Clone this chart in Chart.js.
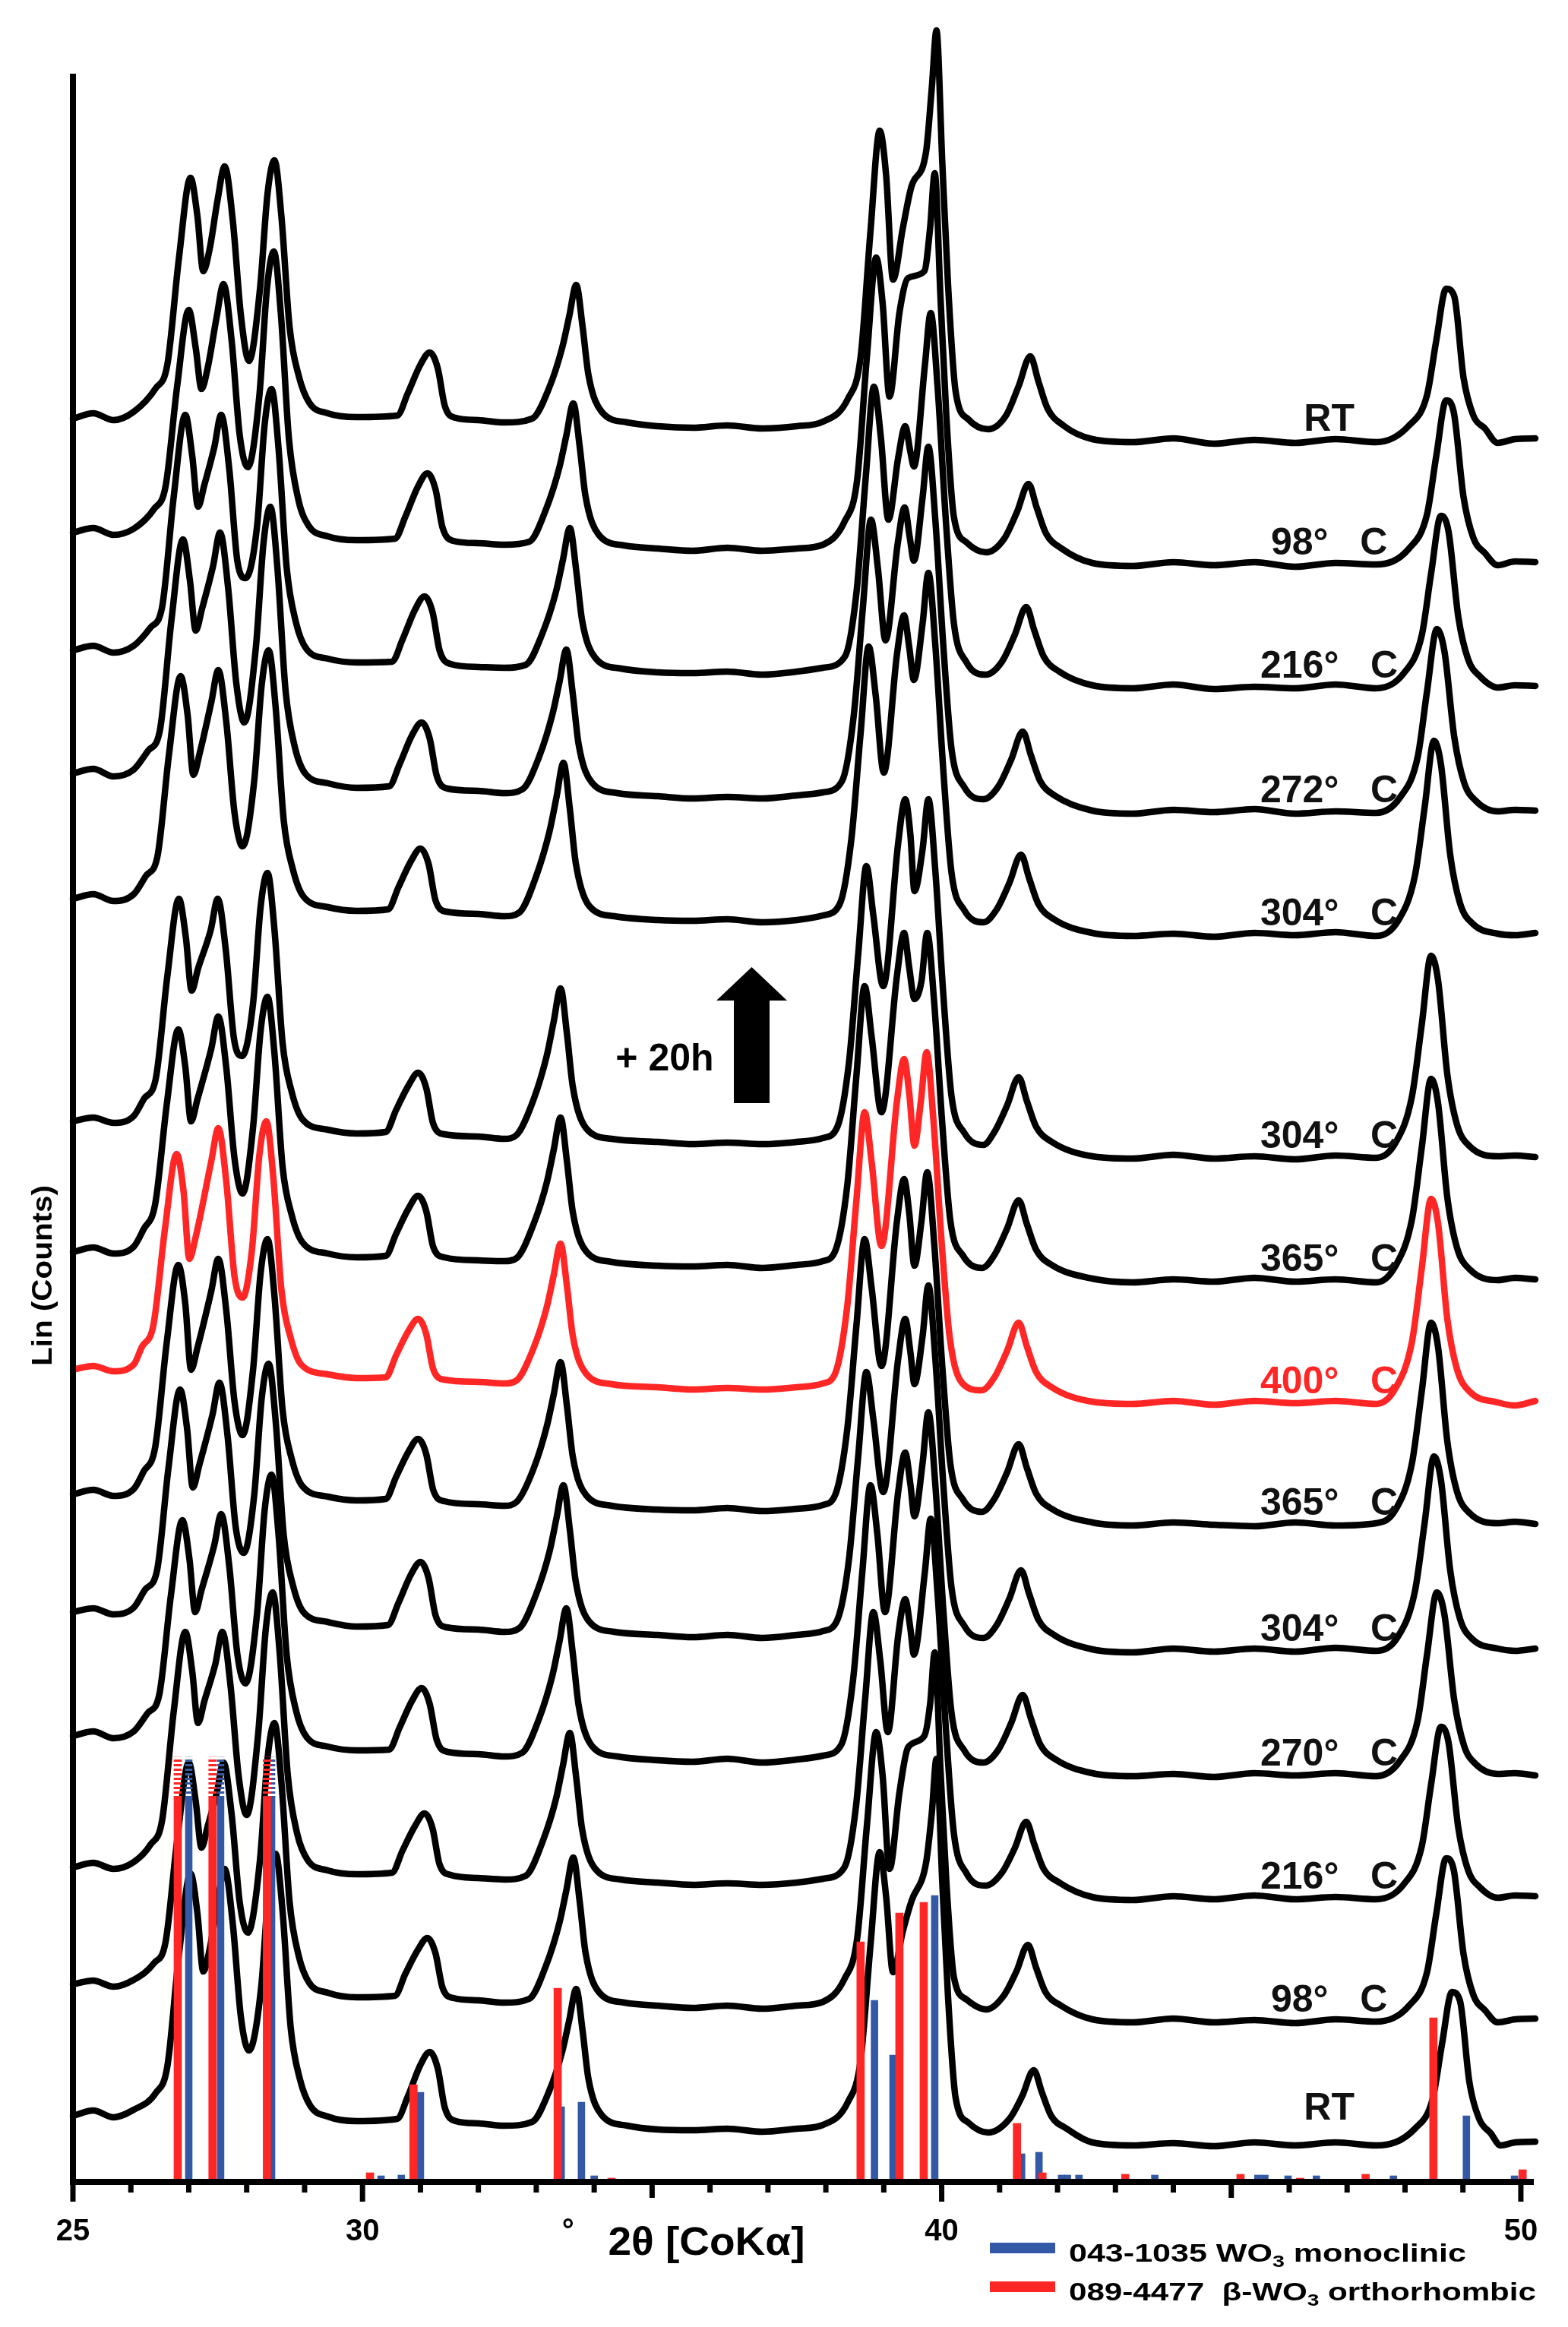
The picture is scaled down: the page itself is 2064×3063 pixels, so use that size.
<!DOCTYPE html>
<html>
<head>
<meta charset="utf-8">
<script src="https://cdn.jsdelivr.net/npm/chart.js@4.4.1/dist/chart.umd.min.js"></script>
<style>
html,body{margin:0;padding:0;background:#fff;overflow:hidden;}
canvas{display:block;}
</style>
</head>
<body>
<canvas id="c" width="2064" height="3063"></canvas>
<script>
// ---------------- DATA ----------------
// x axis: 2theta (deg, CoKa); y axis: stacked Lin (Counts) in arbitrary units
const X_MIN = 25, X_MAX = 50.25, Y_MAX = 2773;
const tickValues = [25,26,27,28,29,30,31,32,33,34,35,36,37,38,39,40,41,42,43,44,45,46,47,48,49,50];
const tickLabels = ['25','30','40','50'];

// curve labels (top to bottom), colours and vertical offsets of each stacked pattern
const curveNames   = ['RT','98°   C','216°   C','272°   C','304°   C','304°   C','365°   C','400°   C','365°   C','304°   C','270°   C','216°   C','98°   C','RT'];
const curveColors  = ['#000','#000','#000','#000','#000','#000','#000','#ff2626','#000','#000','#000','#000','#000','#000'];
const curveOffsets = [2290,2128,1966,1802,1640,1347,1185,1024,864,698,534,372,210,48];
const labelLift    = [13,12,12,12,12,12,12,12,12,12,12,12,12,32];

// [2theta, intensity above the pattern's offset]
const ptsRT1 = [[25.00,29],[25.35,36],[25.70,27],[26.05,38],[26.43,69],[26.63,100],[26.83,240],[27.03,346],[27.15,295],[27.25,223],[27.36,252],[27.50,318],[27.62,361],[27.76,290],[27.90,165],[28.04,105],[28.23,200],[28.36,325],[28.48,369],[28.60,295],[28.74,150],[28.90,85],[29.08,50],[29.40,36],[29.90,31],[30.60,33],[30.78,62],[31.00,100],[31.16,116],[31.30,95],[31.42,46],[31.61,30],[32.00,27],[32.45,24],[32.93,29],[33.22,69],[33.45,123],[33.57,164],[33.69,205],[33.80,150],[33.90,87],[34.13,38],[34.57,24],[35.10,19],[35.70,17],[36.30,20],[36.90,16],[37.50,19],[37.95,25],[38.38,55],[38.60,110],[38.77,275],[38.93,408],[39.04,350],[39.16,212],[39.33,280],[39.48,335],[39.73,380],[39.83,465],[39.91,540],[40.01,367],[40.11,205],[40.24,65],[40.46,28],[40.80,15],[41.11,33],[41.33,72],[41.53,111],[41.67,78],[41.83,42],[42.10,20],[42.60,2],[43.30,-2],[44.00,3],[44.70,-4],[45.40,1],[46.10,-3],[46.80,2],[47.50,-2],[48.07,20],[48.38,60],[48.54,132],[48.71,200],[48.85,190],[49.01,83],[49.18,33],[49.38,16],[49.60,-3],[49.90,2],[50.25,3]];
const pts98a = [[25.00,41],[25.35,47],[25.70,38],[26.05,46],[26.40,72],[26.60,102],[26.80,234],[27.00,334],[27.12,284],[27.22,230],[27.33,259],[27.48,324],[27.60,368],[27.74,294],[27.88,169],[28.02,127],[28.22,222],[28.35,362],[28.47,411],[28.59,329],[28.73,164],[28.89,85],[29.07,50],[29.40,36],[29.90,31],[30.56,33],[30.74,62],[30.96,102],[31.12,119],[31.26,98],[31.38,48],[31.57,30],[32.00,27],[32.45,25],[32.88,29],[33.17,72],[33.40,127],[33.52,169],[33.64,211],[33.75,154],[33.85,89],[34.08,38],[34.52,24],[35.10,20],[35.70,17],[36.30,21],[36.90,17],[37.50,20],[37.95,25],[38.32,55],[38.54,110],[38.71,274],[38.87,403],[38.98,343],[39.10,220],[39.27,330],[39.42,376],[39.70,385],[39.80,442],[39.88,514],[39.98,350],[40.08,195],[40.21,62],[40.43,28],[40.77,15],[41.08,33],[41.30,68],[41.50,105],[41.64,74],[41.80,40],[42.07,20],[42.60,1],[43.30,-3],[44.00,2],[44.70,-2],[45.40,2],[46.10,-4],[46.80,1],[47.50,-1],[48.07,20],[48.38,65],[48.54,142],[48.71,215],[48.84,200],[49.01,88],[49.18,34],[49.38,14],[49.60,-2],[49.90,3],[50.25,2]];
const pts216a = [[25.00,48],[25.35,54],[25.70,45],[26.05,54],[26.34,78],[26.54,105],[26.74,250],[26.94,358],[27.06,304],[27.16,237],[27.27,266],[27.44,315],[27.56,358],[27.70,286],[27.84,165],[27.98,143],[28.18,212],[28.31,345],[28.43,392],[28.55,314],[28.69,157],[28.85,85],[29.03,50],[29.40,37],[29.90,32],[30.51,33],[30.69,62],[30.91,102],[31.07,119],[31.21,98],[31.33,48],[31.52,30],[32.00,26],[32.45,25],[32.82,29],[33.11,71],[33.34,125],[33.46,167],[33.58,209],[33.69,153],[33.79,88],[34.02,38],[34.46,24],[35.10,19],[35.70,18],[36.30,20],[36.90,16],[37.50,20],[37.95,25],[38.33,40],[38.53,125],[38.69,277],[38.83,395],[38.95,328],[39.08,220],[39.25,302],[39.37,343],[39.46,309],[39.52,290],[39.71,423],[39.81,492],[39.93,394],[40.07,221],[40.21,84],[40.43,32],[40.76,16],[41.04,33],[41.26,68],[41.46,105],[41.60,74],[41.76,40],[42.03,20],[42.60,2],[43.30,-2],[44.00,3],[44.70,-3],[45.40,0],[46.10,-2],[46.80,3],[47.50,-2],[47.98,18],[48.29,68],[48.45,149],[48.62,225],[48.75,205],[48.92,92],[49.09,36],[49.29,14],[49.60,-1],[49.90,2],[50.25,1]];
const pts272 = [[25.00,50],[25.35,56],[25.70,46],[26.05,55],[26.30,80],[26.50,106],[26.70,251],[26.90,358],[27.02,304],[27.12,238],[27.23,267],[27.42,323],[27.54,367],[27.68,294],[27.82,169],[27.96,117],[28.16,217],[28.29,353],[28.41,401],[28.53,321],[28.67,160],[28.83,85],[29.01,50],[29.40,37],[29.90,31],[30.46,33],[30.64,62],[30.86,101],[31.02,117],[31.16,96],[31.28,47],[31.47,30],[32.00,27],[32.45,24],[32.76,29],[33.05,72],[33.28,128],[33.40,170],[33.52,213],[33.63,155],[33.73,89],[33.96,38],[34.40,24],[35.10,20],[35.70,17],[36.30,19],[36.90,17],[37.50,21],[37.95,25],[38.28,40],[38.48,125],[38.64,269],[38.78,384],[38.90,319],[39.03,225],[39.24,352],[39.36,400],[39.45,360],[39.52,330],[39.67,413],[39.77,480],[39.89,384],[40.03,216],[40.17,82],[40.39,32],[40.72,16],[40.98,33],[41.20,68],[41.40,105],[41.54,74],[41.70,40],[41.97,20],[42.60,1],[43.30,-3],[44.00,2],[44.70,-1],[45.40,3],[46.10,-3],[46.80,0],[47.50,-2],[47.91,18],[48.22,72],[48.38,158],[48.55,240],[48.68,211],[48.85,98],[49.02,38],[49.22,14],[49.60,0],[49.90,2],[50.25,1]];
const pts304a = [[25.00,47],[25.35,53],[25.70,44],[26.05,53],[26.26,77],[26.46,103],[26.66,238],[26.86,340],[26.98,289],[27.08,210],[27.19,239],[27.39,306],[27.51,348],[27.65,278],[27.79,160],[27.93,116],[28.13,202],[28.26,329],[28.38,374],[28.50,299],[28.64,150],[28.80,85],[28.98,50],[29.40,36],[29.90,31],[30.44,33],[30.62,62],[30.84,97],[31.00,113],[31.14,93],[31.26,45],[31.45,30],[32.00,27],[32.45,24],[32.71,29],[33.00,77],[33.23,136],[33.35,181],[33.47,226],[33.58,165],[33.68,95],[33.91,38],[34.35,24],[35.10,19],[35.70,18],[36.30,20],[36.90,16],[37.50,19],[37.95,25],[38.24,40],[38.44,125],[38.60,265],[38.74,379],[38.86,315],[39.00,213],[39.23,370],[39.35,420],[39.44,378],[39.52,335],[39.67,409],[39.77,476],[39.89,381],[40.03,214],[40.17,81],[40.39,32],[40.72,16],[40.95,33],[41.17,68],[41.37,105],[41.51,74],[41.67,40],[41.94,20],[42.60,2],[43.30,-2],[44.00,1],[44.70,-3],[45.40,2],[46.10,-1],[46.80,3],[47.50,-2],[47.88,18],[48.17,77],[48.34,168],[48.50,255],[48.62,224],[48.78,105],[48.95,41],[49.17,14],[49.60,1],[49.90,-1],[50.25,2]];
const pts304b = [[25.00,47],[25.35,52],[25.70,45],[26.05,54],[26.23,77],[26.43,103],[26.63,238],[26.83,340],[26.95,289],[27.05,219],[27.16,248],[27.38,299],[27.50,340],[27.64,272],[27.78,156],[27.92,133],[28.11,202],[28.24,329],[28.36,374],[28.48,299],[28.62,150],[28.78,85],[28.96,50],[29.40,36],[29.90,31],[30.40,33],[30.58,62],[30.80,95],[30.96,111],[31.10,91],[31.22,44],[31.41,30],[32.00,27],[32.45,24],[32.66,29],[32.95,75],[33.18,133],[33.30,178],[33.42,222],[33.53,162],[33.63,93],[33.86,38],[34.30,24],[35.10,20],[35.70,17],[36.30,19],[36.90,17],[37.50,20],[37.95,25],[38.20,40],[38.40,125],[38.56,268],[38.70,383],[38.82,318],[38.99,225],[39.25,414],[39.37,471],[39.46,424],[39.53,350],[39.67,405],[39.77,471],[39.89,377],[40.03,212],[40.17,80],[40.39,32],[40.72,16],[40.91,33],[41.13,68],[41.33,105],[41.47,74],[41.63,40],[41.90,20],[42.60,1],[43.30,-2],[44.00,3],[44.70,-2],[45.40,1],[46.10,-3],[46.80,2],[47.50,-1],[47.83,18],[48.12,80],[48.29,175],[48.45,265],[48.57,233],[48.73,109],[48.90,42],[49.12,14],[49.60,1],[49.90,2],[50.25,0]];
const pts365a = [[25.00,37],[25.35,43],[25.70,35],[26.05,44],[26.22,67],[26.42,100],[26.62,231],[26.82,330],[26.94,281],[27.04,209],[27.15,238],[27.39,305],[27.51,347],[27.65,278],[27.79,160],[27.93,114],[28.11,201],[28.24,328],[28.36,373],[28.48,298],[28.62,149],[28.78,85],[28.96,50],[29.40,35],[29.90,30],[30.40,32],[30.58,61],[30.80,95],[30.96,111],[31.10,91],[31.22,44],[31.41,30],[32.00,26],[32.45,25],[32.66,29],[32.95,73],[33.18,128],[33.30,171],[33.42,214],[33.53,156],[33.63,90],[33.86,38],[34.30,24],[35.10,19],[35.70,18],[36.30,20],[36.90,16],[37.50,20],[37.95,25],[38.17,40],[38.37,125],[38.53,271],[38.67,387],[38.79,321],[38.96,221],[39.23,402],[39.35,457],[39.44,411],[39.53,370],[39.65,393],[39.75,457],[39.87,366],[40.01,206],[40.15,78],[40.37,32],[40.70,16],[40.91,33],[41.13,68],[41.33,105],[41.47,74],[41.63,40],[41.90,20],[42.60,2],[43.30,-3],[44.00,1],[44.70,-2],[45.40,3],[46.10,-2],[46.80,1],[47.50,-3],[47.83,18],[48.12,80],[48.29,175],[48.45,265],[48.57,233],[48.73,109],[48.90,42],[49.12,14],[49.60,0],[49.90,3],[50.25,1]];
const pts400 = [[25.00,43],[25.35,48],[25.70,41],[26.05,50],[26.19,73],[26.39,102],[26.59,229],[26.79,327],[26.91,278],[27.01,189],[27.12,218],[27.39,318],[27.51,361],[27.65,289],[27.79,166],[27.93,138],[28.09,200],[28.22,326],[28.34,370],[28.46,296],[28.60,148],[28.76,85],[28.94,50],[29.40,37],[29.90,32],[30.40,33],[30.58,62],[30.80,95],[30.96,110],[31.10,90],[31.22,44],[31.41,30],[32.00,27],[32.45,25],[32.66,29],[32.95,71],[33.18,125],[33.30,167],[33.42,209],[33.53,153],[33.63,88],[33.86,38],[34.30,24],[35.10,20],[35.70,17],[36.30,19],[36.90,17],[37.50,20],[37.95,25],[38.17,40],[38.37,127],[38.53,268],[38.67,382],[38.79,317],[38.96,206],[39.23,398],[39.35,452],[39.44,407],[39.53,338],[39.64,396],[39.74,461],[39.86,369],[40.00,210],[40.14,85],[40.36,25],[40.69,16],[40.91,33],[41.13,68],[41.33,105],[41.47,74],[41.63,40],[41.90,20],[42.60,1],[43.30,-2],[44.00,2],[44.70,-3],[45.40,2],[46.10,-1],[46.80,2],[47.50,-2],[47.83,18],[48.12,80],[48.29,177],[48.45,268],[48.57,236],[48.73,110],[48.90,43],[49.12,14],[49.60,0],[49.90,-4],[50.25,2]];
const pts365b = [[25.00,39],[25.35,45],[25.70,37],[26.05,46],[26.22,69],[26.42,101],[26.62,239],[26.82,341],[26.94,290],[27.04,203],[27.15,232],[27.39,307],[27.51,349],[27.65,279],[27.79,161],[27.93,117],[28.11,203],[28.24,330],[28.36,375],[28.48,300],[28.62,150],[28.78,85],[28.96,50],[29.40,36],[29.90,31],[30.40,33],[30.58,62],[30.80,96],[30.96,112],[31.10,92],[31.22,45],[31.41,30],[32.00,26],[32.45,24],[32.66,29],[32.95,72],[33.18,128],[33.30,170],[33.42,213],[33.53,155],[33.63,89],[33.86,38],[34.30,24],[35.10,19],[35.70,18],[36.30,21],[36.90,17],[37.50,20],[37.95,25],[38.17,40],[38.37,125],[38.53,263],[38.67,375],[38.79,311],[38.96,208],[39.23,400],[39.35,454],[39.44,409],[39.53,340],[39.65,398],[39.75,463],[39.87,370],[40.01,208],[40.15,79],[40.37,32],[40.70,16],[40.91,33],[41.13,68],[41.33,105],[41.47,74],[41.63,40],[41.90,20],[42.60,2],[43.30,-2],[44.00,2],[44.70,-1],[45.40,-3],[46.10,2],[46.80,-2],[47.50,1],[47.83,18],[48.12,80],[48.29,175],[48.45,265],[48.57,233],[48.73,109],[48.90,42],[49.12,14],[49.60,1],[49.90,3],[50.25,0]];
const pts304c = [[25.00,50],[25.35,55],[25.70,47],[26.05,56],[26.25,80],[26.45,104],[26.65,240],[26.85,343],[26.97,292],[27.07,214],[27.18,243],[27.41,310],[27.53,352],[27.67,282],[27.81,162],[27.95,128],[28.13,204],[28.26,332],[28.38,377],[28.50,302],[28.64,151],[28.80,85],[28.98,50],[29.40,37],[29.90,31],[30.44,33],[30.62,62],[30.84,100],[31.00,116],[31.14,95],[31.26,46],[31.45,30],[32.00,27],[32.45,24],[32.71,29],[33.00,74],[33.23,130],[33.35,174],[33.47,217],[33.58,158],[33.68,91],[33.91,38],[34.35,24],[35.10,20],[35.70,17],[36.30,20],[36.90,16],[37.50,20],[37.95,25],[38.20,40],[38.40,120],[38.56,256],[38.70,366],[38.82,304],[38.99,208],[39.25,384],[39.37,436],[39.46,392],[39.53,350],[39.67,413],[39.77,480],[39.89,384],[40.03,216],[40.17,82],[40.39,32],[40.72,16],[40.95,33],[41.17,68],[41.37,105],[41.51,74],[41.67,40],[41.94,20],[42.60,1],[43.30,-3],[44.00,2],[44.70,-2],[45.40,2],[46.10,-2],[46.80,3],[47.50,-1],[47.88,18],[48.17,77],[48.34,168],[48.50,255],[48.62,224],[48.78,105],[48.95,41],[49.17,14],[49.60,2],[49.90,-1],[50.25,2]];
const pts270 = [[25.00,51],[25.35,57],[25.70,48],[26.05,57],[26.29,81],[26.49,105],[26.69,235],[26.89,335],[27.01,285],[27.11,214],[27.22,243],[27.44,302],[27.56,343],[27.70,274],[27.84,158],[27.98,120],[28.18,213],[28.31,348],[28.43,395],[28.55,316],[28.69,158],[28.85,85],[29.03,50],[29.40,37],[29.90,32],[30.46,33],[30.64,62],[30.86,98],[31.02,114],[31.16,93],[31.28,46],[31.47,30],[32.00,27],[32.45,24],[32.76,29],[33.05,74],[33.28,131],[33.40,175],[33.52,219],[33.63,160],[33.73,92],[33.96,38],[34.40,24],[35.10,19],[35.70,17],[36.30,21],[36.90,16],[37.50,20],[37.95,25],[38.27,40],[38.47,125],[38.63,267],[38.77,381],[38.89,316],[39.02,214],[39.25,373],[39.37,424],[39.46,382],[39.53,340],[39.67,410],[39.77,477],[39.89,382],[40.03,215],[40.17,81],[40.39,32],[40.72,16],[40.98,33],[41.20,68],[41.40,105],[41.54,74],[41.70,40],[41.97,20],[42.60,2],[43.30,-2],[44.00,1],[44.70,-3],[45.40,2],[46.10,-1],[46.80,2],[47.50,-2],[47.91,18],[48.22,72],[48.38,158],[48.55,240],[48.68,211],[48.85,98],[49.02,38],[49.22,14],[49.60,1],[49.90,2],[50.25,-1]];
const pts216b = [[25.00,40],[25.35,46],[25.70,38],[26.05,47],[26.34,70],[26.54,102],[26.74,245],[26.94,350],[27.06,298],[27.16,230],[27.27,259],[27.46,308],[27.58,350],[27.72,280],[27.86,161],[28.00,109],[28.20,217],[28.33,354],[28.45,402],[28.57,322],[28.71,161],[28.87,85],[29.05,50],[29.40,36],[29.90,31],[30.51,33],[30.69,62],[30.91,95],[31.07,111],[31.21,91],[31.33,44],[31.52,30],[32.00,26],[32.45,24],[32.82,29],[33.11,74],[33.34,130],[33.46,174],[33.58,217],[33.69,158],[33.79,91],[34.02,38],[34.46,24],[35.10,20],[35.70,17],[36.30,19],[36.90,17],[37.50,20],[37.95,25],[38.32,40],[38.52,120],[38.68,263],[38.82,376],[38.94,312],[39.07,218],[39.25,346],[39.37,393],[39.46,354],[39.52,320],[39.71,429],[39.81,499],[39.93,399],[40.07,225],[40.21,85],[40.43,32],[40.76,16],[41.04,33],[41.26,65],[41.46,100],[41.60,70],[41.76,38],[42.03,20],[42.60,1],[43.30,-3],[44.00,2],[44.70,-2],[45.40,3],[46.10,-2],[46.80,1],[47.50,-2],[47.98,18],[48.29,68],[48.45,149],[48.62,225],[48.75,205],[48.92,92],[49.09,36],[49.29,14],[49.60,0],[49.90,3],[50.25,2]];
const pts98b = [[25.00,48],[25.35,53],[25.70,45],[26.05,54],[26.40,76],[26.60,104],[26.80,238],[27.00,340],[27.12,289],[27.22,228],[27.33,257],[27.48,299],[27.60,340],[27.74,272],[27.88,156],[28.02,116],[28.23,212],[28.36,345],[28.48,392],[28.60,314],[28.74,157],[28.90,85],[29.08,50],[29.40,37],[29.90,31],[30.56,33],[30.74,62],[30.96,94],[31.12,109],[31.26,89],[31.38,44],[31.57,30],[32.00,27],[32.45,24],[32.88,29],[33.17,73],[33.40,129],[33.52,172],[33.64,215],[33.75,157],[33.85,90],[34.08,38],[34.52,24],[35.10,20],[35.70,17],[36.30,20],[36.90,16],[37.50,20],[37.95,25],[38.32,55],[38.54,108],[38.71,258],[38.87,380],[38.98,323],[39.10,200],[39.27,300],[39.42,360],[39.70,375],[39.80,417],[39.88,485],[39.98,330],[40.08,184],[40.21,58],[40.43,28],[40.77,15],[41.07,33],[41.29,65],[41.49,100],[41.63,70],[41.79,38],[42.06,20],[42.60,2],[43.30,-2],[44.00,3],[44.70,-2],[45.40,1],[46.10,-3],[46.80,2],[47.50,-1],[48.07,20],[48.38,64],[48.54,141],[48.71,214],[48.84,199],[49.01,88],[49.18,34],[49.38,14],[49.60,-2],[49.90,2],[50.25,3]];
const ptsRT2 = [[25.00,37],[25.35,44],[25.70,35],[26.05,45],[26.43,67],[26.63,102],[26.83,249],[27.03,356],[27.15,303],[27.25,227],[27.36,256],[27.50,319],[27.62,362],[27.76,290],[27.90,167],[28.04,123],[28.25,206],[28.38,336],[28.50,382],[28.62,306],[28.76,153],[28.92,85],[29.10,50],[29.40,36],[29.90,30],[30.60,33],[30.78,62],[31.00,104],[31.16,121],[31.30,99],[31.42,48],[31.61,30],[32.00,27],[32.45,24],[32.93,29],[33.22,69],[33.45,122],[33.57,163],[33.69,204],[33.80,149],[33.90,86],[34.13,38],[34.57,24],[35.10,19],[35.70,18],[36.30,20],[36.90,16],[37.50,20],[37.95,25],[38.38,55],[38.60,110],[38.77,261],[38.93,384],[39.04,326],[39.16,226],[39.33,280],[39.48,320],[39.73,370],[39.83,436],[39.91,507],[40.01,345],[40.11,193],[40.24,61],[40.46,28],[40.80,15],[41.17,33],[41.39,63],[41.59,97],[41.73,68],[41.89,37],[42.16,20],[42.60,2],[43.30,-2],[44.00,1],[44.70,-3],[45.40,2],[46.10,-2],[46.80,2],[47.50,-2],[48.17,20],[48.48,60],[48.64,132],[48.81,200],[48.95,188],[49.11,82],[49.28,33],[49.48,14],[49.65,-2],[49.90,2],[50.25,3]];
const curvePoints = [ptsRT1,pts98a,pts216a,pts272,pts304a,pts304b,pts365a,pts400,pts365b,pts304c,pts270,pts216b,pts98b,ptsRT2];

// reference patterns (stick positions and heights)
const monoX = [27.00,27.55,28.43,30.32,30.67,31.00,33.43,33.78,34.00,38.84,39.16,39.88,41.38,41.68,42.07,42.17,42.37,43.68,45.46,45.58,45.98,46.47,47.80,49.06,49.89];
const monoH = [505,505,505,6,7,116,97,103,6,237,165,375,35,37,7,7,7,7,7,7,6,6,6,85,6];
const orthoX = [26.81,27.41,28.35,30.13,30.88,33.37,34.30,38.60,39.27,39.69,41.30,41.74,43.17,45.16,46.19,47.32,48.49,50.03];
const orthoH = [505,505,505,10,126,253,3,314,352,366,75,10,8,8,3,8,214,14];
const monoTallX = [27.00,27.55,28.43];
const orthoTallX = [26.81,27.41,28.35];
const tallBreak = [505,557];

const legendItems = [
  {color:'#3358a6', parts:[['043-1035 WO',0],['3',1],[' monoclinic',0]], width:523},
  {color:'#ff2626', parts:[['089-4477  β-WO',0],['3',1],[' orthorhombic',0]], width:615}
];
const BLUE = '#3358a6', RED = '#ff2626';

// ---------------- CHART ----------------
function stripePattern(color){
  const c = document.createElement('canvas'); c.width = 12; c.height = 6;
  const g = c.getContext('2d'); g.fillStyle = color; g.fillRect(0,0,12,3);
  return g.createPattern(c,'repeat');
}

const datasets = [];
curvePoints.forEach((pts,i)=>{
  datasets.push({
    type:'line', label:curveNames[i],
    data: pts.map(p=>({x:p[0], y:curveOffsets[i]+p[1]})),
    borderColor: curveColors[i], borderWidth: 8.5, pointRadius: 0,
    cubicInterpolationMode:'monotone', fill:false, clip:false, order: 2,
    borderJoinStyle:'round', borderCapStyle:'round'
  });
});
datasets.push({type:'bar', label:'043-1035 WO3 monoclinic', data: monoX.map((x,i)=>({x, y:monoH[i]})),
  backgroundColor: BLUE, barThickness: 9, grouped:false, order:1, borderWidth:0});
datasets.push({type:'bar', label:'mono break', data: monoTallX.map(x=>({x, y:tallBreak.slice()})),
  backgroundColor: stripePattern(BLUE), barThickness: 9, grouped:false, order:1, borderWidth:0});
datasets.push({type:'bar', label:'089-4477 β-WO3 orthorhombic', data: orthoX.map((x,i)=>({x, y:orthoH[i]})),
  backgroundColor: RED, barThickness: 10, grouped:false, order:0, borderWidth:0});
datasets.push({type:'bar', label:'ortho break', data: orthoTallX.map(x=>({x, y:tallBreak.slice()})),
  backgroundColor: stripePattern(RED), barThickness: 10, grouped:false, order:0, borderWidth:0});

const FONT = "'Liberation Sans', Arial, Helvetica, sans-serif";

function drawText(ctx, s, x, y, size, bold, align, targetW, color){
  ctx.save();
  ctx.font = (bold?'bold ':'') + size + 'px ' + FONT;
  ctx.fillStyle = color || '#000';
  ctx.textBaseline = 'alphabetic';
  const w = ctx.measureText(s).width;
  const sx = targetW ? targetW / w : 1;
  ctx.translate(x, y); ctx.scale(sx, 1);
  ctx.textAlign = align;
  ctx.fillText(s, 0, 0);
  ctx.restore();
}

const deco = {
  id:'deco',
  afterDatasetsDraw(chart){
    const ctx = chart.ctx, xs = chart.scales.x, ys = chart.scales.y;
    const px = v => xs.getPixelForValue(v), py = v => ys.getPixelForValue(v);
    const x0 = px(X_MIN), y0 = py(0);
    ctx.save();
    ctx.strokeStyle = '#000'; ctx.fillStyle = '#000'; ctx.lineCap = 'butt';
    // axes
    ctx.lineWidth = 8;
    ctx.beginPath(); ctx.moveTo(x0, py(Y_MAX)); ctx.lineTo(x0, y0 + 6); ctx.stroke();
    ctx.beginPath(); ctx.moveTo(x0 - 4, y0 + 2); ctx.lineTo(px(X_MAX) - 2, y0 + 2); ctx.stroke();
    // ticks
    ctx.lineWidth = 7;
    tickValues.forEach(t=>{
      const len = (t % 10 === 0 || t === 25) ? 26 : (t % 5 === 0 ? 21 : 14);
      ctx.beginPath(); ctx.moveTo(px(t), y0 + 4); ctx.lineTo(px(t), y0 + 2 + len); ctx.stroke();
    });
    tickLabels.forEach(l=> drawText(ctx, l, px(+l), y0 + 79, 40, true, 'center'));
    drawText(ctx, '°', px(33.55), y0 + 79, 40, true, 'center');
    // x title
    drawText(ctx, '2θ [CoKα]', px(34.24), y0 + 98, 52, true, 'left', 259);
    // y title
    ctx.save();
    ctx.translate(56 + 12, 1679); ctx.rotate(-Math.PI/2);
    drawText(ctx, 'Lin (Counts)', 0, 0, 36, true, 'center', 238);
    ctx.restore();
    // curve labels
    curveNames.forEach((n,i)=>{
      drawText(ctx, n, px(46.69), py(curveOffsets[i] + labelLift[i]), 50, true, 'center', null, curveColors[i] === '#000' ? '#111' : curveColors[i]);
    });
    // +20h arrow
    const ax = px(36.72);
    ctx.beginPath();
    ctx.moveTo(ax, py(1597));
    ctx.lineTo(ax + 46.5, py(1553)); ctx.lineTo(ax + 23.5, py(1553));
    ctx.lineTo(ax + 23.5, py(1418)); ctx.lineTo(ax - 23.5, py(1418));
    ctx.lineTo(ax - 23.5, py(1553)); ctx.lineTo(ax - 46.5, py(1553));
    ctx.closePath(); ctx.fill();
    drawText(ctx, '+ 20h', px(34.37), py(1461), 50, true, 'left');
    // legend
    const lx = 1303, lTextX = 1407, baselines = [2977, 3028];
    legendItems.forEach((it,k)=>{
      const yb = baselines[k];
      ctx.fillStyle = it.color;
      ctx.fillRect(lx, yb - 25, 86, 14);
      ctx.fillStyle = '#000';
      let total = 0;
      it.parts.forEach(([s,sub])=>{ ctx.font = 'bold ' + (sub?22:33) + 'px ' + FONT; total += ctx.measureText(s).width; });
      const sx = it.width / total;
      let cx = lTextX;
      it.parts.forEach(([s,sub])=>{
        ctx.font = 'bold ' + (sub?22:33) + 'px ' + FONT;
        const w = ctx.measureText(s).width;
        ctx.save(); ctx.translate(cx, yb + (sub?7:0)); ctx.scale(sx,1);
        ctx.textAlign = 'left'; ctx.fillText(s, 0, 0); ctx.restore();
        cx += w * sx;
      });
    });
    ctx.restore();
  }
};

new Chart(document.getElementById('c'), {
  type:'line',
  data:{datasets},
  options:{
    responsive:false, animation:false, devicePixelRatio:1,
    layout:{padding:{left:96, right:43, top:97, bottom:193}},
    scales:{
      x:{type:'linear', min:X_MIN, max:X_MAX, display:false, offset:false},
      y:{type:'linear', min:0, max:Y_MAX, display:false}
    },
    plugins:{legend:{display:false}, tooltip:{enabled:false}},
    events:[]
  },
  plugins:[deco]
});
</script>
</body>
</html>
